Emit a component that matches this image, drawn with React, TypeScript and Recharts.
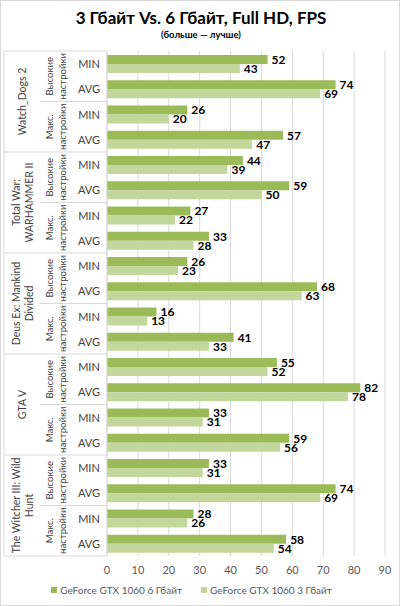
import React from 'react'
import { BarChart, Bar, XAxis, YAxis, CartesianGrid, LabelList } from 'recharts'

const games = [
  ['Watch_Dogs 2'],
  ['Total War:', 'WARHAMMER II'],
  ['Deus Ex: Mankind', 'Divided'],
  ['GTA V'],
  ['The Witcher III: Wild', 'Hunt'],
]
const settings = [
  ['Высокие', 'настройки'],
  ['Макс.', 'настройки'],
]
const metrics = ['MIN', 'AVG']

const gtx6 = [52, 74, 26, 57, 44, 59, 27, 33, 26, 68, 16, 41, 55, 82, 33, 59, 33, 74, 28, 58]
const gtx3 = [43, 69, 20, 47, 39, 50, 22, 28, 23, 63, 13, 33, 52, 78, 31, 56, 31, 69, 26, 54]

const xTicks = [0, 10, 20, 30, 40, 50, 60, 70, 80, 90]

const FONT = 'Lato, "Noto Sans", sans-serif'
const DARK = '#9bbb59'
const LIGHT = '#c3d69b'
const LINE = '#d9d9d9'

const W = 400
const H = 606
const TOP = 51
const BOTTOM = 556
const PLOT_LEFT = 107
const ROWS = gtx6.length
const BAND = (BOTTOM - TOP) / ROWS

const data = gtx6.map((v, i) => ({
  key: `${Math.floor(i / 4)}-${Math.floor(i / 2) % 2}-${i % 2}`,
  metric: metrics[i % 2],
  gtx6: v,
  gtx3: gtx3[i],
}))

function CategoryTick(props: any) {
  const { y, payload } = props
  const i = payload.index
  const row = data[i]
  const parts: React.ReactNode[] = []

  parts.push(
    <text key="m" x={89} y={y} textAnchor="middle" dominantBaseline="central" fontSize={11} fill="#404040" fontFamily={FONT}>
      {row.metric}
    </text>
  )

  if (i % 2 === 0) {
    const sy = y + BAND / 2
    const lines = settings[Math.floor(i / 2) % 2]
    parts.push(
      <text key="s" transform={`translate(56, ${sy}) rotate(-90)`} textAnchor="middle" fontSize={9.6} fill="#404040" fontFamily={FONT}>
        {lines.map((l, k) => (
          <tspan key={k} x={0} y={(k - (lines.length - 1) / 2) * 13 + 3.5}>{l}</tspan>
        ))}
      </text>
    )
    const startX = i % 4 === 0 ? 4 : 40
    parts.push(<line key="sl" x1={startX} x2={PLOT_LEFT} y1={y - BAND / 2} y2={y - BAND / 2} stroke={LINE} />)
  }

  if (i % 4 === 0) {
    const gy = y + BAND * 1.5
    const lines = games[Math.floor(i / 4)]
    parts.push(
      <text key="g" transform={`translate(22, ${gy}) rotate(-90)`} textAnchor="middle" fontSize={10.5} fill="#404040" fontFamily={FONT}>
        {lines.map((l, k) => (
          <tspan key={k} x={0} y={(k - (lines.length - 1) / 2) * 13 + 4}>{l}</tspan>
        ))}
      </text>
    )
  }

  if (i === 0) {
    parts.push(<line key="lv" x1={4} x2={4} y1={y - BAND / 2} y2={y - BAND / 2 + ROWS * BAND} stroke={LINE} />)
  }
  if (i === ROWS - 1) {
    parts.push(<line key="lb" x1={4} x2={PLOT_LEFT} y1={y + BAND / 2} y2={y + BAND / 2} stroke={LINE} />)
  }

  return <g>{parts}</g>
}

function LegendItem({ color, label }: { color: string; label: string }) {
  return (
    <div style={{ display: 'flex', alignItems: 'center', marginRight: 19 }}>
      <span style={{ width: 6, height: 6, background: color, marginRight: 3, display: 'inline-block' }} />
      <span>{label}</span>
    </div>
  )
}

const valueLabel = { fontSize: 12, fontWeight: 700, fill: '#000', fontFamily: FONT }

export default function App() {
  return (
    <div
      style={{
        position: 'absolute',
        left: 0,
        top: 0,
        width: W,
        height: H,
        border: `1px solid ${LINE}`,
        boxSizing: 'border-box',
        background: '#fff',
        fontFamily: FONT,
        overflow: 'hidden',
      }}
    >
      <div style={{ position: 'absolute', top: 6, left: 0, width: W, textAlign: 'center', fontSize: 17, fontWeight: 700, color: '#000' }}>
        3 Гбайт Vs. 6 Гбайт, Full HD, FPS
      </div>
      <div style={{ position: 'absolute', top: 28, left: 0, width: W, textAlign: 'center', fontSize: 9.5, fontWeight: 700, color: '#000' }}>
        (больше — лучше)
      </div>
      <div style={{ position: 'absolute', left: -1, top: -1 }}>
        <BarChart
          width={W}
          height={H}
          data={data}
          layout="vertical"
          margin={{ top: TOP, right: 15, left: 4, bottom: 30 }}
          barSize={9}
          barGap={0}
        >
          <CartesianGrid horizontal={false} stroke={LINE} />
          <XAxis
            type="number"
            domain={[0, 90]}
            ticks={xTicks}
            axisLine={false}
            tickLine={false}
            height={20}
            tickMargin={4}
            tick={{ fontSize: 11, fill: '#595959', fontFamily: FONT }}
          />
          <YAxis
            type="category"
            dataKey="key"
            width={103}
            interval={0}
            axisLine={{ stroke: LINE }}
            tickLine={false}
            tick={(p: any) => <CategoryTick {...p} />}
          />
          <Bar dataKey="gtx6" fill={DARK} isAnimationActive={false}>
            <LabelList dataKey="gtx6" position="right" offset={4} style={valueLabel} />
          </Bar>
          <Bar dataKey="gtx3" fill={LIGHT} isAnimationActive={false}>
            <LabelList dataKey="gtx3" position="right" offset={4} style={valueLabel} />
          </Bar>
        </BarChart>
      </div>
      <div
        style={{
          position: 'absolute',
          top: 583,
          left: 0,
          width: W,
          display: 'flex',
          justifyContent: 'center',
          fontSize: 10,
          color: '#595959',
        }}
      >
        <LegendItem color={DARK} label="GeForce GTX 1060 6 Гбайт" />
        <LegendItem color={LIGHT} label="GeForce GTX 1060 3 Гбайт" />
      </div>
    </div>
  )
}
